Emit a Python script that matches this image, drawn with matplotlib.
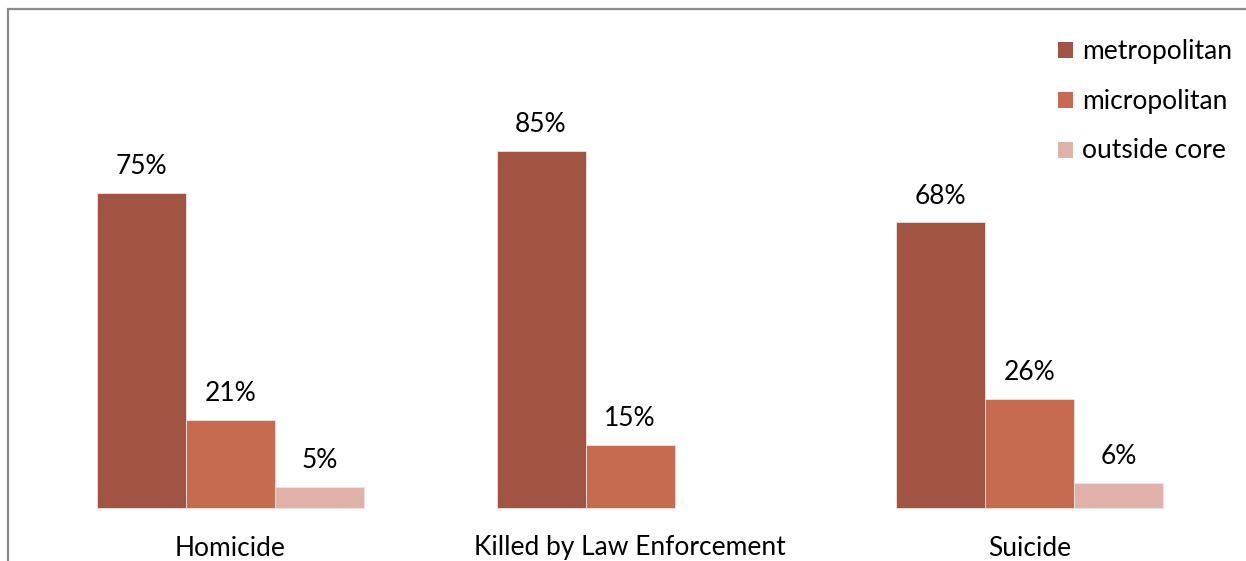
import matplotlib
matplotlib.use("Agg")
import matplotlib.pyplot as plt
from matplotlib.patches import Rectangle
import numpy as np

categories = ["Homicide", "Killed by Law Enforcement", "Suicide"]
series = ["metropolitan", "micropolitan", "outside core"]
metropolitan = [75, 85, 68]
micropolitan = [21, 15, 26]
outside_core = [5, None, 6]
colors = ["#A15442", "#C66A50", "#DFB1A9"]

plt.rcParams['font.family'] = ['Lato', 'DejaVu Sans']
W, H = 1246, 561
fig = plt.figure(figsize=(W / 100, H / 100), dpi=100)
base_px = 508
ppu = 4.2
step = 399.5
ax = fig.add_axes([0, 0, 1, 1])
ax.set_xlim(-230.5 / step, (W - 230.5) / step)
ax.set_ylim(-(H - base_px) / ppu, base_px / ppu)
ax.axis('off')

bw = 89 / step
x = np.arange(len(categories))
fs = 19
for i, (vals, name, c) in enumerate(zip([metropolitan, micropolitan, outside_core], series, colors)):
    off = (i - 1) * bw
    for xi, v in zip(x, vals):
        if v is None:
            continue
        ax.bar(xi + off, v, width=bw, color=c, edgecolor='#F3E3DF', linewidth=0.6)
        ax.text(xi + off, v + 26 / ppu, f"{v}%", ha='center', va='center', fontsize=fs, color='black')

for xi, cat in zip(x, categories):
    ax.text(xi, -40 / ppu, cat, ha='center', va='center', fontsize=fs, color='black')

# legend
for j, (name, c) in enumerate(zip(series, colors)):
    ypx = 50 + 50 * j
    fig.patches.append(Rectangle((1058 / W, 1 - (ypx + 8) / H), 15 / W, 16 / H,
                                 transform=fig.transFigure, facecolor=c, edgecolor='none'))
    fig.text(1082 / W, 1 - (ypx + 1) / H, name, ha='left', va='center', fontsize=fs)

# frame
fig.patches.append(Rectangle((7.5 / W, -0.1), 1.2, 1 - 8.5 / H + 0.1, transform=fig.transFigure,
                             facecolor='none', edgecolor='#8A8A8A', linewidth=1.6))

fig.savefig("out.png", dpi=100)
